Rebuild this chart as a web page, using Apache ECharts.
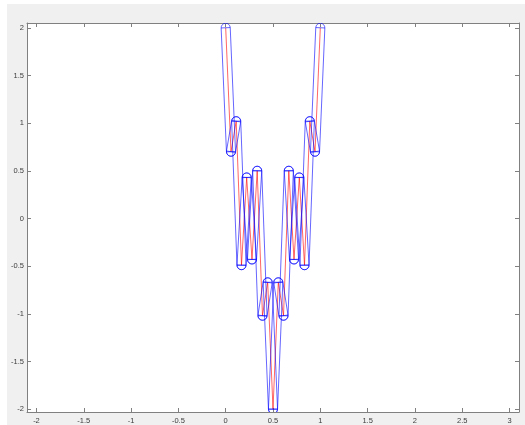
<!DOCTYPE html>
<html><head><meta charset="utf-8">
<script src="https://cdn.jsdelivr.net/npm/echarts@6/dist/echarts.min.js"></script>
<style>html,body{margin:0;padding:0;background:#fff;}#c{width:525px;height:425px;}</style>
</head><body><div id="c"></div>
<script>
// Polyline vertices
const xValues = [0, 0.056, 0.111, 0.167, 0.222, 0.278, 0.333, 0.389, 0.444, 0.5,
                 0.556, 0.611, 0.667, 0.722, 0.778, 0.833, 0.889, 0.944, 1];
const yValues = [2, 0.7, 1.02, -0.49, 0.43, -0.43, 0.5, -1.02, -0.67, -2,
                 -0.67, -1.02, 0.5, -0.43, 0.43, -0.49, 1.02, 0.7, 2];
const capsuleRadius = 0.048;
const xTicks = [-2, -1.5, -1, -0.5, 0, 0.5, 1, 1.5, 2, 2.5, 3];
const xTickLabels = ['-2', '-1.5', '-1', '-0.5', '0', '0.5', '1', '1.5', '2', '2.5', '3'];
const yTicks = [-2, -1.5, -1, -0.5, 0, 0.5, 1, 1.5, 2];
const yTickLabels = ['-2', '-1.5', '-1', '-0.5', '0', '0.5', '1', '1.5', '2'];

const linePts = xValues.map((x, i) => [x, yValues[i]]);
const segs = [];
for (let i = 0; i < xValues.length - 1; i++) {
  segs.push([xValues[i], yValues[i], xValues[i + 1], yValues[i + 1]]);
}

const axisCol = '#808080';
const labCol = '#3c3c3c';
const font = 'Liberation Sans, Arial, sans-serif';

function mkX(pos, showLabel) {
  return {
    type: 'value', min: -2.1, max: 3.1, position: pos,
    axisLine: { show: true, onZero: false, lineStyle: { color: axisCol, width: 1 } },
    axisTick: { show: true, inside: true, length: 4, customValues: xTicks, lineStyle: { color: axisCol } },
    axisLabel: { show: showLabel, customValues: xTicks, margin: 5, fontSize: 7.5, color: labCol, fontFamily: font,
      formatter: v => { const k = xTicks.indexOf(v); return k >= 0 ? xTickLabels[k] : ''; } },
    splitLine: { show: false }
  };
}
function mkY(pos, showLabel) {
  return {
    type: 'value', min: -2.03, max: 2.05, position: pos,
    axisLine: { show: true, onZero: false, lineStyle: { color: axisCol, width: 1 } },
    axisTick: { show: true, inside: true, length: 4, customValues: yTicks, lineStyle: { color: axisCol } },
    axisLabel: { show: showLabel, customValues: yTicks, margin: 3, fontSize: 7.5, color: labCol, fontFamily: font,
      formatter: v => { const k = yTicks.indexOf(v); return k >= 0 ? yTickLabels[k] : ''; } },
    splitLine: { show: false }
  };
}

const chart = echarts.init(document.getElementById('c'), null, { renderer: 'canvas' });
chart.setOption({
  animation: false,
  backgroundColor: '#f0f0f0',
  graphic: [
    { type: 'rect', shape: { x: 0, y: 0, width: 525, height: 4 }, style: { fill: '#ffffff' }, silent: true },
    { type: 'rect', shape: { x: 0, y: 0, width: 7, height: 425 }, style: { fill: '#ffffff' }, silent: true }
  ],
  grid: { left: 27, top: 23, right: 6, bottom: 13, containLabel: false, outerBoundsMode: 'none',
          show: true, backgroundColor: '#ffffff', borderWidth: 0 },
  xAxis: [mkX('bottom', true), mkX('top', false)],
  yAxis: [mkY('left', true), mkY('right', false)],
  series: [
    {
      type: 'line', data: linePts, showSymbol: false, symbol: 'none',
      lineStyle: { color: '#ff0000', width: 1, opacity: 0.6 }, z: 2, clip: true
    },
    {
      type: 'custom', data: segs, clip: true, z: 3,
      encode: { x: [0, 2], y: [1, 3] },
      renderItem: function (params, api) {
        const a = api.coord([api.value(0), api.value(1)]);
        const b = api.coord([api.value(2), api.value(3)]);
        const r = api.size([capsuleRadius, capsuleRadius])[0];
        const dx = b[0] - a[0], dy = b[1] - a[1];
        const L = Math.hypot(dx, dy) || 1;
        const nx = -dy / L * r, ny = dx / L * r;
        const th = Math.atan2(dy, dx);
        const st = { fill: 'none', stroke: 'rgba(0,0,255,0.6)', lineWidth: 1 };
        return {
          type: 'group',
          children: [
            { type: 'polygon', shape: { points: [
                [a[0] + nx, a[1] + ny], [b[0] + nx, b[1] + ny],
                [b[0] - nx, b[1] - ny], [a[0] - nx, a[1] - ny]] }, style: st },
            { type: 'arc', shape: { cx: b[0], cy: b[1], r: r, startAngle: th - Math.PI / 2, endAngle: th + Math.PI / 2, clockwise: true }, style: st },
            { type: 'arc', shape: { cx: a[0], cy: a[1], r: r, startAngle: th + Math.PI / 2, endAngle: th + 3 * Math.PI / 2, clockwise: true }, style: st }
          ]
        };
      }
    }
  ]
});
</script>
</body></html>
